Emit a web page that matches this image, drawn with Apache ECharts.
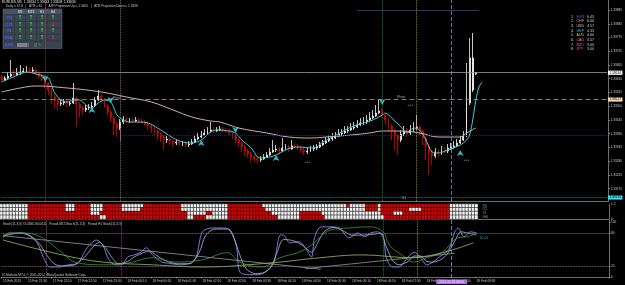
<!DOCTYPE html>
<html>
<head>
<meta charset="utf-8">
<script src="https://cdn.jsdelivr.net/npm/echarts@6/dist/echarts.min.js"></script>
<style>
html,body{margin:0;padding:0;background:#000;}
#main{width:625px;height:285px;}
</style>
</head>
<body>
<div id="main"></div>
<script>
// slots on the time axis (candles + empty space on the right)
var barCount = 195;
var timeLabels = ['15 Feb 2013','15 Feb 21:30','17 Feb 22:10','17 Feb 22:50','17 Feb 23:30','18 Feb 00:10','18 Feb 00:50',
    '18 Feb 01:30','18 Feb 02:10','18 Feb 02:50','18 Feb 03:30','18 Feb 04:10','18 Feb 04:50','18 Feb 05:30',
    '18 Feb 06:10','18 Feb 06:50','18 Feb 07:30','18 Feb 08:10','18 Feb 08:50','18 Feb 09:30'];
var priceTicks = [1.33885,1.33830,1.33775,1.33720,1.33665,1.33610,1.33555,1.33500,1.33445,1.33390,1.33335,1.33280,1.33225,1.33170];
var bidPrice = 1.33634, pivotPrice = 1.33527, s1Price = 1.33135, supportPrice = 1.33385, atrPrice = 1.33885;

// [open, close, low, high]
var candles = [
[1.33617,1.33605,1.33597,1.33625],[1.33605,1.33613,1.33601,1.33621],[1.33613,1.33621,1.33609,1.33637],[1.33621,1.33629,1.33617,1.33685],
[1.33629,1.33625,1.33617,1.33645],[1.33625,1.33633,1.33621,1.33653],[1.33633,1.33637,1.33625,1.33665],[1.33637,1.33641,1.33633,1.33653],
[1.33641,1.33645,1.33637,1.33661],[1.33645,1.33641,1.33633,1.33653],[1.33641,1.33645,1.33637,1.33657],[1.33645,1.33633,1.33625,1.33649],
[1.33633,1.33621,1.33613,1.33637],[1.33621,1.33609,1.33601,1.33629],[1.33609,1.33593,1.33573,1.33617],[1.33593,1.33565,1.33545,1.33597],
[1.33565,1.33537,1.33509,1.33573],[1.33537,1.33521,1.33493,1.33545],[1.33521,1.33509,1.33485,1.33529],[1.33509,1.33513,1.33501,1.33525],
[1.33513,1.33517,1.33505,1.33529],[1.33517,1.33509,1.33497,1.33525],[1.33509,1.33513,1.33501,1.33521],[1.33513,1.33533,1.33509,1.33593],
[1.33533,1.33509,1.33417,1.33541],[1.33509,1.33493,1.33453,1.33517],[1.33493,1.33485,1.33465,1.33501],[1.33485,1.33493,1.33477,1.33505],
[1.33493,1.33497,1.33485,1.33509],[1.33497,1.33501,1.33489,1.33517],[1.33501,1.33525,1.33497,1.33537],[1.33525,1.33541,1.33521,1.33565],
[1.33541,1.33525,1.33513,1.33549],[1.33525,1.33501,1.33493,1.33533],[1.33501,1.33477,1.33465,1.33509],[1.33477,1.33453,1.33437,1.33485],
[1.33453,1.33429,1.33385,1.33461],[1.33429,1.33413,1.33377,1.33437],[1.33413,1.33437,1.33405,1.33449],[1.33437,1.33449,1.33429,1.33461],
[1.33449,1.33441,1.33433,1.33457],[1.33441,1.33445,1.33433,1.33453],[1.33445,1.33441,1.33433,1.33453],[1.33441,1.33445,1.33437,1.33457],
[1.33445,1.33441,1.33433,1.33453],[1.33441,1.33437,1.33429,1.33449],[1.33437,1.33429,1.33421,1.33445],[1.33429,1.33421,1.33405,1.33437],
[1.33421,1.33413,1.33393,1.33429],[1.33413,1.33401,1.33385,1.33421],[1.33401,1.33389,1.33365,1.33409],[1.33389,1.33377,1.33357,1.33397],
[1.33377,1.33365,1.33325,1.33385],[1.33365,1.33369,1.33353,1.33381],[1.33369,1.33361,1.33345,1.33377],[1.33361,1.33353,1.33337,1.33369],
[1.33353,1.33357,1.33345,1.33369],[1.33357,1.33349,1.33341,1.33365],[1.33349,1.33353,1.33341,1.33361],[1.33353,1.33345,1.33337,1.33361],
[1.33345,1.33349,1.33337,1.33361],[1.33349,1.33357,1.33345,1.33369],[1.33357,1.33369,1.33353,1.33381],[1.33369,1.33377,1.33365,1.33393],
[1.33377,1.33385,1.33373,1.33401],[1.33385,1.33393,1.33381,1.33409],[1.33393,1.33401,1.33389,1.33417],[1.33401,1.33405,1.33393,1.33437],
[1.33405,1.33401,1.33393,1.33417],[1.33401,1.33405,1.33397,1.33417],[1.33405,1.33409,1.33401,1.33421],[1.33409,1.33405,1.33397,1.33417],
[1.33405,1.33401,1.33393,1.33413],[1.33401,1.33393,1.33385,1.33409],[1.33393,1.33381,1.33369,1.33401],[1.33381,1.33365,1.33353,1.33389],
[1.33365,1.33353,1.33337,1.33373],[1.33353,1.33337,1.33317,1.33361],[1.33337,1.33321,1.33301,1.33345],[1.33321,1.33309,1.33293,1.33329],
[1.33309,1.33297,1.33273,1.33317],[1.33297,1.33289,1.33277,1.33305],[1.33289,1.33285,1.33273,1.33297],[1.33285,1.33289,1.33277,1.33301],
[1.33289,1.33297,1.33285,1.33309],[1.33297,1.33305,1.33293,1.33317],[1.33305,1.33317,1.33301,1.33333],[1.33317,1.33325,1.33313,1.33365],
[1.33325,1.33329,1.33317,1.33345],[1.33329,1.33321,1.33309,1.33337],[1.33321,1.33333,1.33317,1.33373],[1.33333,1.33337,1.33325,1.33349],
[1.33337,1.33329,1.33317,1.33345],[1.33329,1.33341,1.33325,1.33365],[1.33341,1.33337,1.33329,1.33353],[1.33337,1.33333,1.33325,1.33349],
[1.33333,1.33325,1.33313,1.33341],[1.33325,1.33317,1.33305,1.33333],[1.33317,1.33321,1.33309,1.33333],[1.33321,1.33329,1.33317,1.33341],
[1.33329,1.33333,1.33321,1.33345],[1.33333,1.33337,1.33325,1.33349],[1.33337,1.33345,1.33333,1.33357],[1.33345,1.33353,1.33341,1.33365],
[1.33353,1.33361,1.33349,1.33377],[1.33361,1.33369,1.33357,1.33385],[1.33369,1.33373,1.33361,1.33393],[1.33373,1.33381,1.33369,1.33397],
[1.33381,1.33389,1.33377,1.33409],[1.33389,1.33393,1.33381,1.33409],[1.33393,1.33401,1.33389,1.33421],[1.33401,1.33405,1.33393,1.33421],
[1.33405,1.33413,1.33401,1.33433],[1.33413,1.33417,1.33405,1.33437],[1.33417,1.33425,1.33413,1.33445],[1.33425,1.33433,1.33421,1.33453],
[1.33433,1.33437,1.33425,1.33457],[1.33437,1.33445,1.33429,1.33465],[1.33445,1.33453,1.33441,1.33477],[1.33453,1.33461,1.33449,1.33485],
[1.33461,1.33473,1.33457,1.33505],[1.33473,1.33481,1.33469,1.33525],[1.33481,1.33465,1.33453,1.33493],[1.33465,1.33445,1.33425,1.33473],
[1.33445,1.33421,1.33397,1.33453],[1.33421,1.33401,1.33365,1.33429],[1.33401,1.33381,1.33325,1.33409],[1.33381,1.33365,1.33305,1.33389],
[1.33365,1.33389,1.33357,1.33405],[1.33389,1.33401,1.33381,1.33421],[1.33401,1.33393,1.33377,1.33413],[1.33393,1.33405,1.33385,1.33425],
[1.33405,1.33413,1.33397,1.33437],[1.33413,1.33417,1.33405,1.33465],[1.33417,1.33401,1.33385,1.33425],[1.33401,1.33373,1.33345,1.33409],
[1.33373,1.33341,1.33285,1.33381],[1.33341,1.33313,1.33225,1.33349],[1.33313,1.33301,1.33265,1.33325],[1.33301,1.33317,1.33293,1.33333],
[1.33317,1.33313,1.33297,1.33329],[1.33313,1.33325,1.33305,1.33341],[1.33325,1.33321,1.33309,1.33337],[1.33321,1.33333,1.33313,1.33349],
[1.33333,1.33337,1.33325,1.33353],[1.33337,1.33341,1.33329,1.33361],[1.33341,1.33353,1.33337,1.33369],[1.33353,1.33365,1.33349,1.33381],
[1.33365,1.33385,1.33361,1.33401],[1.33385,1.33513,1.33377,1.33673],[1.33513,1.33693,1.33505,1.33773],[1.33693,1.33565,1.33557,1.33793],
[1.33629,1.33633,1.33625,1.33637]
];
var whiteBars = [151];

// moving averages: [bar, price]
var fastMA = [[0,1.33597],[3,1.33613],[6,1.33629],[8,1.33637],[11,1.33629],[15,1.33613],[16,1.33585],[17,1.33553],[19,1.33525],
    [21,1.33517],[23,1.33525],[25,1.33525],[27,1.33505],[29,1.33493],[31,1.33513],[33,1.33525],[35,1.33517],[36,1.33493],
    [37,1.33465],[39,1.33445],[41,1.33437],[44,1.33437],[47,1.33433],[50,1.33413],[52,1.33397],[55,1.33373],[58,1.33357],
    [61,1.33353],[64,1.33365],[67,1.33397],[69,1.33405],[73,1.33401],[75,1.33393],[77,1.33365],[80,1.33333],[82,1.33297],
    [83,1.33293],[86,1.33297],[88,1.33305],[91,1.33325],[94,1.33337],[96,1.33337],[99,1.33333],[101,1.33337],[103,1.33357],
    [106,1.33377],[109,1.33397],[112,1.33417],[116,1.33433],[119,1.33445],[122,1.33465],[123,1.33473],[125,1.33453],
    [128,1.33417],[130,1.33393],[132,1.33413],[134,1.33405],[136,1.33365],[138,1.33317],[140,1.33313],[143,1.33325],
    [147,1.33345],[149,1.33365],[150,1.33385],[151,1.33445],[152,1.33525],[153,1.33577],[154,1.33597]];
var slowMA = [[0,1.33557],[6,1.33573],[11,1.33581],[21,1.33573],[32,1.33557],[40,1.33537],[48,1.33517],[55,1.33485],
    [61,1.33457],[67,1.33441],[70,1.33437],[76,1.33413],[85,1.33393],[92,1.33377],[99,1.33373],[104,1.33377],[112,1.33385],
    [118,1.33393],[122,1.33401],[128,1.33401],[134,1.33393],[140,1.33377],[147,1.33377],[149,1.33393],[152,1.33413]];

// arrow signals: [bar, price, direction]
var signalArrows = [[14,1.33597,'down'],[29,1.33497,'up'],[35,1.33513,'down'],[64,1.33365,'up'],
    [75,1.33393,'down'],[88,1.33305,'up'],[122,1.33505,'down'],[147,1.33325,'up']];
var chartNotes = [[98,1.33277,'+++'],[131,1.33505,'+++'],[149,1.33285,'+++'],[128,1.33535,'Pivot'],[37,1.33533,'Pivot'],[129,1.33133,'S1']];

// trend strip: run lengths of white (w) / red (r) cells
var heatRows = ['TVI','CCI','T3','GHL'];
var heatRuns = [
    [['w',9],['r',12],['w',3],['r',5],['w',4],['r',6],['w',7],['r',12],['w',15],['r',11],['w',27],['r',1],['w',5],['r',4],['w',1],['r',22],['w',9]],
    [['w',9],['r',12],['w',3],['r',5],['w',4],['r',6],['w',6],['r',13],['w',15],['r',12],['w',32],['r',4],['w',1],['r',9],['w',4],['r',9],['w',9]],
    [['w',9],['r',20],['w',3],['r',28],['w',6],['r',2],['w',5],['r',14],['w',9],['r',7],['w',19],['r',4],['w',3],['r',15],['w',9]],
    [['w',9],['r',23],['w',2],['r',26],['w',2],['r',4],['w',7],['r',16],['w',7],['r',8],['w',19],['r',21],['w',9]]
];

// stochastics: [bar, value]
var stochMain = [[0,71],[2,80],[5,80],[8,76],[11,62],[13,35],[15,18],[18,18],[21,22],[24,25],[27,53],[30,67],[32,58],[34,31],
    [36,22],[38,22],[40,36],[42,40],[44,44],[46,53],[48,40],[51,27],[53,25],[57,22],[60,25],[62,36],[64,82],[67,89],[70,89],
    [73,85],[75,53],[76,9],[79,4],[82,4],[85,13],[87,27],[89,76],[90,76],[92,62],[95,64],[97,53],[99,36],[100,71],[102,91],
    [105,91],[108,89],[111,71],[114,80],[116,73],[118,80],[120,82],[122,76],[123,35],[125,18],[127,18],[130,36],[132,45],
    [134,35],[136,22],[138,27],[140,36],[143,49],[145,82],[146,89],[148,73],[150,82],[152,80]];
var stochSignal = [[0,74],[3,78],[6,80],[9,74],[12,58],[14,40],[17,22],[20,20],[23,22],[26,35],[29,55],[31,63],[33,52],[35,35],
    [37,24],[40,28],[42,36],[45,44],[47,47],[49,40],[52,30],[56,24],[60,24],[63,45],[65,75],[68,87],[72,87],[74,72],[76,40],
    [78,15],[81,6],[84,8],[86,18],[88,45],[90,68],[93,66],[96,58],[99,45],[101,62],[103,82],[106,90],[109,84],[112,76],
    [115,76],[118,77],[121,79],[123,55],[125,30],[127,22],[130,28],[132,38],[134,38],[136,28],[138,27],[141,33],[143,45],
    [145,65],[147,82],[149,80],[152,76]];
var stochM15 = [[0,76],[6,80],[12,73],[19,44],[23,27],[32,22],[40,25],[48,35],[55,27],[64,31],[72,44],[76,27],[83,18],
    [89,35],[95,45],[99,58],[105,85],[111,89],[118,91],[122,82],[124,58],[128,40],[132,27],[136,35],[141,45],[146,71],
    [149,73],[152,80]];
var stochH1 = [[0,67],[19,40],[32,27],[48,22],[64,18],[85,25],[102,35],[115,40],[131,35],[141,44],[151,62]];
var stochTrend1 = [[0,75],[102,14]];
var stochTrend2 = [[97,15],[145,43]];

// dashboard table and currency strength list
var tfCols = ['M5','M15','H1','H4'];
var tableRows = ['TVI','CCI','T3','GHL'];
var tableSignals = [[1,1,1,1],[1,1,1,0],[1,1,1,1],[1,1,1,0]];
var currencies = ['EUR','CHF','USD','GBP','AUD','CAD','NZD','JPY'];
var strengths = [6.43,6.00,4.57,4.33,4.00,3.57,3.00,3.00];
var currencyColors = ['#5a72ff','#ff9a70','#c8c8d8','#40b8b8','#e8c040','#ff8a40','#c060e8','#ff6a40'];

var FONT = 'Liberation Sans';

var cats = [];
for (var i = 0; i < barCount; i++) cats.push(String(i));

var candleData = candles.map(function (c, i) {
    if (whiteBars.indexOf(i) >= 0) {
        return {value: c, itemStyle: {color0: '#ffffff', borderColor0: '#ffffff'}};
    }
    return c;
});

var heatData = [];
heatRuns.forEach(function (runs, r) {
    var x = 0;
    runs.forEach(function (run) {
        for (var k = 0; k < run[1]; k++) {
            heatData.push([x, r, run[0] === 'r' ? 1 : 0]);
            x++;
        }
    });
});

function vLine(idx, color, type) {
    return {xAxis: idx, lineStyle: {color: color, type: type, width: 0.8}};
}
// full-width price level with a value box at the right end
function hLevel(price, color, type, bg) {
    return [
        {coord: [0, price], lineStyle: {color: color, type: type, width: 0.8},
            label: {show: true, position: 'end', distance: 1, formatter: price.toFixed(5),
                backgroundColor: bg, color: '#000', fontSize: 3.2, fontFamily: FONT, padding: [0.6, 1.5]}},
        {coord: [barCount - 1, price]}
    ];
}

var labelTick = function (idx) { return idx % 8 === 0 && idx / 8 < timeLabels.length; };

var graphics = [];
graphics.push({type: 'text', x: 2, y: 0.5, style: {text: 'EURUSD,M5  1.33634 1.33634 1.33634 1.33634', fill: '#e0e0e0', fontSize: 3.4, fontFamily: FONT}});
graphics.push({type: 'text', x: 6, y: 4.8, style: {text: 'Daily = 47.8   |   ATR = 61   |   ATR Projection Up = 1.3405   |   ATR Projection Down = 1.3296', fill: '#c8c8c8', fontSize: 3.2, fontFamily: FONT}});
// table
graphics.push({type: 'rect', shape: {x: 3, y: 9, width: 59, height: 39.5}, style: {fill: '#3b4351', stroke: '#606a7a', lineWidth: 0.6}});
graphics.push({type: 'rect', shape: {x: 3, y: 9, width: 59, height: 5}, style: {fill: '#4a5262'}});
var colX = [20, 31, 42, 53];
var rowY = [18, 24.5, 31, 37.5];
[14.5, 25.5, 36.5, 47.5].forEach(function (x) {
    graphics.push({type: 'line', shape: {x1: x, y1: 14, x2: x, y2: 41}, style: {stroke: '#2c323d', lineWidth: 0.6}});
});
[14.5, 21.2, 27.8, 34.3, 41].forEach(function (y) {
    graphics.push({type: 'line', shape: {x1: 3.5, y1: y, x2: 61.5, y2: y}, style: {stroke: '#2c323d', lineWidth: 0.6}});
});
tfCols.forEach(function (t, c) {
    graphics.push({type: 'text', x: colX[c], y: 11.6, style: {text: t, fill: '#b8c0ff', fontSize: 3.4, fontFamily: FONT, fontWeight: 'bold', align: 'center', verticalAlign: 'middle'}});
});
tableRows.forEach(function (name, r) {
    graphics.push({type: 'text', x: 9, y: rowY[r], style: {text: name, fill: '#4a5cff', fontSize: 4, fontFamily: FONT, fontWeight: 'bold', align: 'center', verticalAlign: 'middle'}});
    tableSignals[r].forEach(function (s, c) {
        graphics.push({type: 'text', x: colX[c], y: rowY[r], style: {text: s ? '↑' : '↓', fill: s ? '#30d040' : '#e83030', fontSize: 5.5, fontFamily: 'DejaVu Sans', fontWeight: 'bold', align: 'center', verticalAlign: 'middle'}});
    });
});
graphics.push({type: 'text', x: 9, y: 44.5, style: {text: 'ADR', fill: '#4a5cff', fontSize: 3.6, fontFamily: FONT, fontWeight: 'bold', align: 'center', verticalAlign: 'middle'}});
graphics.push({type: 'text', x: 17, y: 44.5, style: {text: '|||||||||||', fill: '#e8e8e8', fontSize: 4, fontFamily: FONT, verticalAlign: 'middle'}});
graphics.push({type: 'text', x: 34, y: 44.5, style: {text: '|||', fill: '#30c040', fontSize: 4, fontFamily: FONT, verticalAlign: 'middle'}});
graphics.push({type: 'text', x: 38, y: 45.5, style: {text: '%', fill: '#30c040', fontSize: 3, fontFamily: FONT, verticalAlign: 'middle'}});
// currency strength
currencies.forEach(function (cur, k) {
    var y = 16.5 + k * 4.7;
    graphics.push({type: 'text', x: 571, y: y, style: {text: (k + 1) + '.', fill: '#d0d0d0', fontSize: 3.6, fontFamily: FONT, verticalAlign: 'middle'}});
    graphics.push({type: 'text', x: 576.5, y: y, style: {text: cur, fill: currencyColors[k], fontSize: 3.6, fontFamily: FONT, verticalAlign: 'middle'}});
    graphics.push({type: 'text', x: 587, y: y, style: {text: strengths[k].toFixed(2), fill: '#d0d0d0', fontSize: 3.6, fontFamily: FONT, verticalAlign: 'middle'}});
});
graphics.push({type: 'text', x: 3, y: 222.3, style: {text: 'Stoch(11,3,3) 74.0845 80.0611   Period M15 Stoch(11,3,3)   Period H1 Stoch(11,3,3)', fill: '#c8c8c8', fontSize: 3.2, fontFamily: FONT}});
graphics.push({type: 'text', x: 2, y: 273.2, style: {text: 'IC Markets MT4, © 2001-2012, MetaQuotes Software Corp.', fill: '#c8c8c8', fontSize: 3.2, fontFamily: FONT}});

var axisGray = '#8a8a8a';
function xAx(g, showLabels) {
    return {
        type: 'category', gridIndex: g, data: cats, boundaryGap: true,
        axisLine: {show: true, lineStyle: {color: axisGray, width: 0.8}},
        axisTick: {show: showLabels, interval: labelTick, length: 1.5, lineStyle: {color: axisGray}},
        axisLabel: {show: showLabels, interval: labelTick, align: 'left', margin: 2, fontSize: 3.2, fontFamily: FONT, color: '#c8c8c8',
            formatter: function (v, idx) { return timeLabels[idx / 8] || ''; }},
        splitLine: {show: false}
    };
}

var smallLabel = {fontSize: 3.2, fontFamily: FONT, color: '#c8c8c8', margin: 2};

var option = {
    backgroundColor: '#000000',
    animation: false,
    graphic: graphics,
    grid: [
        {left: 0, right: 16, top: 0, height: 201},
        {left: 0, right: 16, top: 204, height: 15},
        {left: 0, right: 16, top: 220, height: 58}
    ],
    xAxis: [xAx(0, false), xAx(1, false), xAx(2, true)],
    yAxis: [
        {type: 'value', gridIndex: 0, position: 'right', min: 1.33121, max: 1.33925, scale: true,
            axisLine: {show: true, lineStyle: {color: axisGray, width: 0.8}},
            axisTick: {show: true, customValues: priceTicks, length: 1.5, lineStyle: {color: axisGray}},
            axisLabel: Object.assign({customValues: priceTicks, formatter: function (v) { return v.toFixed(5); }}, smallLabel),
            splitLine: {show: false}},
        {type: 'category', gridIndex: 1, data: heatRows, inverse: true, show: false},
        {type: 'value', gridIndex: 1, position: 'right', min: 0, max: 1.2,
            axisLine: {show: true, lineStyle: {color: axisGray, width: 0.8}},
            axisTick: {show: false},
            axisLabel: Object.assign({customValues: [0, 1.2]}, smallLabel),
            splitLine: {show: false}},
        {type: 'value', gridIndex: 2, position: 'right', min: -2, max: 103.5,
            axisLine: {show: true, lineStyle: {color: axisGray, width: 0.8}},
            axisTick: {show: true, customValues: [0, 20, 80, 100], length: 1.5, lineStyle: {color: axisGray}},
            axisLabel: Object.assign({customValues: [0, 20, 80, 100]}, smallLabel),
            splitLine: {show: false}}
    ],
    visualMap: [{type: 'piecewise', show: false, seriesIndex: 5, dimension: 2,
        pieces: [{value: 0, color: '#f4f4f4'}, {value: 1, color: '#e00000'}]}],
    series: [
        {
            type: 'candlestick', xAxisIndex: 0, yAxisIndex: 0, data: candleData, barWidth: 1.4,
            itemStyle: {color: '#ffffff', color0: '#e00000', borderColor: '#f0f0f0', borderColor0: '#e00000', borderWidth: 0.8},
            markLine: {
                symbol: ['none', 'none'], silent: true, animation: false, label: {show: false},
                data: [
                    hLevel(bidPrice, '#9a9a9a', 'solid', '#ffffff'),
                    hLevel(pivotPrice, '#a0a0a0', [5, 3], '#ffd9b0'),
                    hLevel(s1Price, '#2aa0a0', 'dotted', '#30e0f0'),
                    [{coord: [38, supportPrice], lineStyle: {color: '#202a70', type: 'dotted', width: 1}}, {coord: [barCount - 1, supportPrice]}],
                    [{coord: [114, atrPrice], lineStyle: {color: '#3a4678', type: 'solid', width: 0.8}}, {coord: [153, atrPrice]}],
                    [{coord: [38, 1.33409], lineStyle: {color: '#b030b0', type: 'solid', width: 1}}, {coord: [38, 1.33361]}],
                    vLine(14, '#a04848', 'dotted'),
                    vLine(38, '#909090', 'dotted'),
                    vLine(122, '#30a030', 'dotted'),
                    vLine(133, '#b0b030', 'dotted'),
                    vLine(144, '#8a8ad0', [4, 2])
                ]
            }
        },
        {type: 'line', xAxisIndex: 0, yAxisIndex: 0, data: fastMA, smooth: 0.3, showSymbol: false, lineStyle: {color: '#3cd2dc', width: 1}},
        {type: 'line', xAxisIndex: 0, yAxisIndex: 0, data: slowMA, smooth: 0.4, showSymbol: false, lineStyle: {color: '#d0b0a8', width: 1}},
        {type: 'scatter', xAxisIndex: 0, yAxisIndex: 0, symbol: 'arrow', symbolSize: [5, 6],
            itemStyle: {color: '#3ce6f0'},
            data: signalArrows.map(function (a) { return {value: [a[0], a[1]], symbolRotate: a[2] === 'down' ? 180 : 0}; })},
        {type: 'scatter', xAxisIndex: 0, yAxisIndex: 0, symbolSize: 0,
            label: {show: true, position: 'inside', fontSize: 3.4, fontFamily: FONT, color: '#d8d8d8',
                formatter: function (p) { return p.data[2]; }},
            data: chartNotes},
        {type: 'heatmap', xAxisIndex: 1, yAxisIndex: 1, data: heatData,
            itemStyle: {borderColor: '#000', borderWidth: 0.5}},
        {type: 'scatter', xAxisIndex: 1, yAxisIndex: 1, symbolSize: 0,
            label: {show: true, position: 'right', distance: 0, fontSize: 2.8, fontFamily: FONT, color: '#c0c0c0',
                formatter: function (p) { return heatRows[p.data[1]]; }},
            data: heatRows.map(function (n, r) { return [154, r]; })},
        {type: 'line', xAxisIndex: 2, yAxisIndex: 3, data: stochMain, smooth: 0.3, showSymbol: false, lineStyle: {color: '#7878e8', width: 1},
            markLine: {
                symbol: ['none', 'none'], silent: true, animation: false, label: {show: false},
                data: [
                    {yAxis: 80, lineStyle: {color: '#8a8a8a', type: 'dotted', width: 0.8}},
                    {yAxis: 20, lineStyle: {color: '#8a8a8a', type: 'dotted', width: 0.8}},
                    vLine(14, '#c06088', 'dotted'),
                    vLine(38, '#c040c0', 'dotted'),
                    vLine(122, '#30a030', 'dotted'),
                    vLine(133, '#b0b030', 'dotted'),
                    {xAxis: 144, lineStyle: {color: '#8a8ad0', type: [4, 2], width: 0.8},
                        label: {show: true, position: 'start', distance: 1.5, formatter: '2013.02.18 08:50', backgroundColor: '#b070e8', color: '#f0e8ff', fontSize: 3.2, fontFamily: FONT, padding: [0.8, 3]}}
                ]
            }},
        {type: 'line', xAxisIndex: 2, yAxisIndex: 3, data: stochSignal, smooth: 0.3, showSymbol: false, lineStyle: {color: '#b8b8d8', width: 0.8}},
        {type: 'line', xAxisIndex: 2, yAxisIndex: 3, data: stochM15, smooth: 0.4, showSymbol: false, lineStyle: {color: '#3a9a3a', width: 0.8}},
        {type: 'line', xAxisIndex: 2, yAxisIndex: 3, data: stochH1, smooth: 0.4, showSymbol: false, lineStyle: {color: '#a0c060', width: 0.8}},
        {type: 'line', xAxisIndex: 2, yAxisIndex: 3, data: stochTrend1, showSymbol: false, lineStyle: {color: '#9a9a9a', width: 0.8}},
        {type: 'line', xAxisIndex: 2, yAxisIndex: 3, data: stochTrend2, showSymbol: false, lineStyle: {color: '#9a9a9a', width: 0.8}},
        {type: 'scatter', xAxisIndex: 2, yAxisIndex: 3, symbolSize: 0,
            label: {show: true, position: 'right', distance: 0, fontSize: 3.4, fontFamily: FONT, color: '#30c8c8', formatter: '10.00'},
            data: [[153, 71]]}
    ]
};

var chart = echarts.init(document.getElementById('main'));
chart.setOption(option);
</script>
</body>
</html>
